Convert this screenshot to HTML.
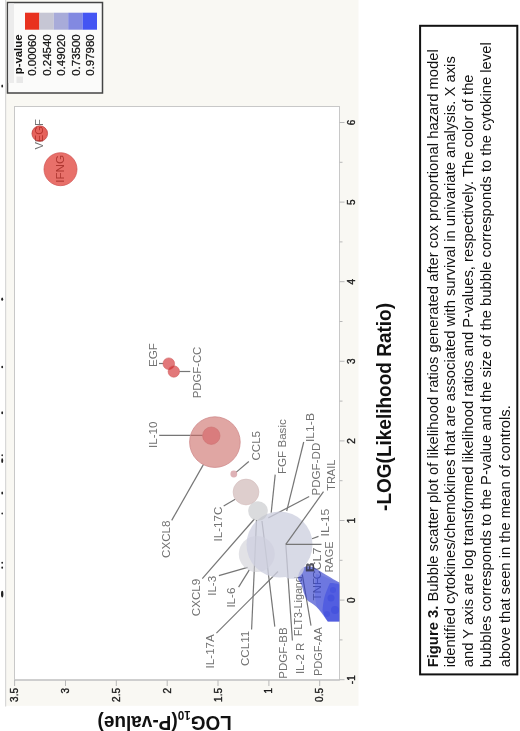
<!DOCTYPE html><html><head><meta charset="utf-8"><style>html,body{margin:0;padding:0;background:#fff;width:520px;height:731px;overflow:hidden}svg{display:block;will-change:transform}text{font-family:"Liberation Sans",sans-serif}</style></head><body>
<svg width="520" height="731" viewBox="0 0 520 731">
<rect x="0" y="0" width="520" height="731" fill="#ffffff"/>
<rect x="5" y="0" width="353.5" height="705.8" fill="#f9f8f3"/>
<line x1="5.6" y1="0" x2="5.6" y2="706.5" stroke="#d8d8d8" stroke-width="1.2"/>
<rect x="14.5" y="106.5" width="325.0" height="573.5" fill="#ffffff" stroke="#c8c8c8" stroke-width="1"/>
<line x1="14.5" y1="680" x2="339.5" y2="680" stroke="#c8c8c8" stroke-width="1.4"/>
<line x1="339.5" y1="679.7" x2="344.5" y2="679.7" stroke="#b8b8b8" stroke-width="1"/>
<text transform="translate(354.5,679.6999999999999) rotate(-90)" font-size="10" fill="#1a1a1a" font-weight="normal" text-anchor="middle" stroke="#1a1a1a" stroke-width="0.35">-1</text>
<line x1="339.5" y1="639.9" x2="342.5" y2="639.9" stroke="#b8b8b8" stroke-width="1"/>
<line x1="339.5" y1="600.1" x2="344.5" y2="600.1" stroke="#b8b8b8" stroke-width="1"/>
<text transform="translate(354.5,600.0999999999999) rotate(-90)" font-size="10" fill="#1a1a1a" font-weight="normal" text-anchor="middle" stroke="#1a1a1a" stroke-width="0.35">0</text>
<line x1="339.5" y1="560.3" x2="342.5" y2="560.3" stroke="#b8b8b8" stroke-width="1"/>
<line x1="339.5" y1="520.5" x2="344.5" y2="520.5" stroke="#b8b8b8" stroke-width="1"/>
<text transform="translate(354.5,520.5) rotate(-90)" font-size="10" fill="#1a1a1a" font-weight="normal" text-anchor="middle" stroke="#1a1a1a" stroke-width="0.35">1</text>
<line x1="339.5" y1="480.7" x2="342.5" y2="480.7" stroke="#b8b8b8" stroke-width="1"/>
<line x1="339.5" y1="440.9" x2="344.5" y2="440.9" stroke="#b8b8b8" stroke-width="1"/>
<text transform="translate(354.5,440.9) rotate(-90)" font-size="10" fill="#1a1a1a" font-weight="normal" text-anchor="middle" stroke="#1a1a1a" stroke-width="0.35">2</text>
<line x1="339.5" y1="401.1" x2="342.5" y2="401.1" stroke="#b8b8b8" stroke-width="1"/>
<line x1="339.5" y1="361.3" x2="344.5" y2="361.3" stroke="#b8b8b8" stroke-width="1"/>
<text transform="translate(354.5,361.29999999999995) rotate(-90)" font-size="10" fill="#1a1a1a" font-weight="normal" text-anchor="middle" stroke="#1a1a1a" stroke-width="0.35">3</text>
<line x1="339.5" y1="321.5" x2="342.5" y2="321.5" stroke="#b8b8b8" stroke-width="1"/>
<line x1="339.5" y1="281.7" x2="344.5" y2="281.7" stroke="#b8b8b8" stroke-width="1"/>
<text transform="translate(354.5,281.7) rotate(-90)" font-size="10" fill="#1a1a1a" font-weight="normal" text-anchor="middle" stroke="#1a1a1a" stroke-width="0.35">4</text>
<line x1="339.5" y1="241.9" x2="342.5" y2="241.9" stroke="#b8b8b8" stroke-width="1"/>
<line x1="339.5" y1="202.1" x2="344.5" y2="202.1" stroke="#b8b8b8" stroke-width="1"/>
<text transform="translate(354.5,202.1) rotate(-90)" font-size="10" fill="#1a1a1a" font-weight="normal" text-anchor="middle" stroke="#1a1a1a" stroke-width="0.35">5</text>
<line x1="339.5" y1="162.3" x2="342.5" y2="162.3" stroke="#b8b8b8" stroke-width="1"/>
<line x1="339.5" y1="122.5" x2="344.5" y2="122.5" stroke="#b8b8b8" stroke-width="1"/>
<text transform="translate(354.5,122.5) rotate(-90)" font-size="10" fill="#1a1a1a" font-weight="normal" text-anchor="middle" stroke="#1a1a1a" stroke-width="0.35">6</text>
<line x1="319.7" y1="680" x2="319.7" y2="686" stroke="#b8b8b8" stroke-width="1"/>
<text transform="translate(323.30000000000007,688) rotate(-90)" font-size="10" fill="#1a1a1a" font-weight="normal" text-anchor="end" stroke="#1a1a1a" stroke-width="0.35">0.5</text>
<line x1="268.9" y1="680" x2="268.9" y2="686" stroke="#b8b8b8" stroke-width="1"/>
<text transform="translate(272.45000000000005,688) rotate(-90)" font-size="10" fill="#1a1a1a" font-weight="normal" text-anchor="end" stroke="#1a1a1a" stroke-width="0.35">1</text>
<line x1="218.0" y1="680" x2="218.0" y2="686" stroke="#b8b8b8" stroke-width="1"/>
<text transform="translate(221.6,688) rotate(-90)" font-size="10" fill="#1a1a1a" font-weight="normal" text-anchor="end" stroke="#1a1a1a" stroke-width="0.35">1.5</text>
<line x1="167.2" y1="680" x2="167.2" y2="686" stroke="#b8b8b8" stroke-width="1"/>
<text transform="translate(170.75,688) rotate(-90)" font-size="10" fill="#1a1a1a" font-weight="normal" text-anchor="end" stroke="#1a1a1a" stroke-width="0.35">2</text>
<line x1="116.3" y1="680" x2="116.3" y2="686" stroke="#b8b8b8" stroke-width="1"/>
<text transform="translate(119.89999999999999,688) rotate(-90)" font-size="10" fill="#1a1a1a" font-weight="normal" text-anchor="end" stroke="#1a1a1a" stroke-width="0.35">2.5</text>
<line x1="65.5" y1="680" x2="65.5" y2="686" stroke="#b8b8b8" stroke-width="1"/>
<text transform="translate(69.05,688) rotate(-90)" font-size="10" fill="#1a1a1a" font-weight="normal" text-anchor="end" stroke="#1a1a1a" stroke-width="0.35">3</text>
<line x1="14.6" y1="680" x2="14.6" y2="686" stroke="#b8b8b8" stroke-width="1"/>
<text transform="translate(18.2,688) rotate(-90)" font-size="10" fill="#1a1a1a" font-weight="normal" text-anchor="end" stroke="#1a1a1a" stroke-width="0.35">3.5</text>
<text transform="translate(391,510.9) rotate(-90)" font-size="19.5" fill="#111" font-weight="bold" text-anchor="start" textLength="207.9" lengthAdjust="spacingAndGlyphs">-LOG(Likelihood Ratio)</text>
<text transform="translate(231.8,715.6) rotate(180)" font-size="19.5" font-weight="bold" fill="#111" textLength="134.3" lengthAdjust="spacingAndGlyphs">LOG<tspan font-size="12" dy="5">10</tspan><tspan dy="-5">(P-value)</tspan></text>
<text transform="translate(43.3,149.6) rotate(-90)" font-size="11.6" fill="#727272" font-weight="normal" text-anchor="start" textLength="30.4" lengthAdjust="spacingAndGlyphs">VEGF</text>
<text transform="translate(63.7,182.7) rotate(-90)" font-size="11.6" fill="#727272" font-weight="normal" text-anchor="start" >IFNG</text>
<text transform="translate(156.5,367) rotate(-90)" font-size="11.6" fill="#727272" font-weight="normal" text-anchor="start" >EGF</text>
<text transform="translate(200.8,398.3) rotate(-90)" font-size="11.6" fill="#727272" font-weight="normal" text-anchor="start" textLength="51.6" lengthAdjust="spacingAndGlyphs">PDGF-CC</text>
<text transform="translate(157.3,448) rotate(-90)" font-size="11.6" fill="#727272" font-weight="normal" text-anchor="start" >IL-10</text>
<text transform="translate(169.8,557.9) rotate(-90)" font-size="11.6" fill="#727272" font-weight="normal" text-anchor="start" >CXCL8</text>
<text transform="translate(260.4,460.6) rotate(-90)" font-size="11.6" fill="#727272" font-weight="normal" text-anchor="start" >CCL5</text>
<text transform="translate(221.7,541.5) rotate(-90)" font-size="11.6" fill="#727272" font-weight="normal" text-anchor="start" >IL-17C</text>
<text transform="translate(286.3,474) rotate(-90)" font-size="11.6" fill="#727272" font-weight="normal" text-anchor="start" >FGF Basic</text>
<text transform="translate(314.2,442) rotate(-90)" font-size="11.6" fill="#727272" font-weight="normal" text-anchor="start" textLength="29" lengthAdjust="spacingAndGlyphs">IL1-B</text>
<text transform="translate(320.2,495.5) rotate(-90)" font-size="11.6" fill="#727272" font-weight="normal" text-anchor="start" >PDGF-DD</text>
<text transform="translate(335,490.8) rotate(-90)" font-size="11.6" fill="#727272" font-weight="normal" text-anchor="start" textLength="31.2" lengthAdjust="spacingAndGlyphs">TRAIL</text>
<text transform="translate(329.4,536.4) rotate(-90)" font-size="11.6" fill="#727272" font-weight="normal" text-anchor="start" textLength="27.8" lengthAdjust="spacingAndGlyphs">IL-15</text>
<text transform="translate(332.8,572.6) rotate(-90)" font-size="11.6" fill="#727272" font-weight="normal" text-anchor="start" textLength="31.2" lengthAdjust="spacingAndGlyphs">RAGE</text>
<text transform="translate(320.9,579.5) rotate(-90)" font-size="11.6" fill="#727272" font-weight="normal" text-anchor="start" textLength="32" lengthAdjust="spacingAndGlyphs">CCL7</text>
<text transform="translate(320.9,600.5) rotate(-90)" font-size="11.6" fill="#727272" font-weight="normal" text-anchor="start" >TNF</text>
<text transform="translate(302,636.2) rotate(-90)" font-size="11.6" fill="#727272" font-weight="normal" text-anchor="start" textLength="60" lengthAdjust="spacingAndGlyphs">FLT3-Ligand</text>
<text transform="translate(200.4,616.2) rotate(-90)" font-size="11.6" fill="#727272" font-weight="normal" text-anchor="start" >CXCL9</text>
<text transform="translate(216.4,595.8) rotate(-90)" font-size="11.6" fill="#727272" font-weight="normal" text-anchor="start" >IL-3</text>
<text transform="translate(235.3,607.6) rotate(-90)" font-size="11.6" fill="#727272" font-weight="normal" text-anchor="start" >IL-6</text>
<text transform="translate(214,668.4) rotate(-90)" font-size="11.6" fill="#727272" font-weight="normal" text-anchor="start" >IL-17A</text>
<text transform="translate(249.3,666) rotate(-90)" font-size="11.6" fill="#727272" font-weight="normal" text-anchor="start" >CCL11</text>
<text transform="translate(286.8,678.8) rotate(-90)" font-size="11.6" fill="#727272" font-weight="normal" text-anchor="start" >PDGF-BB</text>
<text transform="translate(303.6,674.1) rotate(-90)" font-size="11.6" fill="#727272" font-weight="normal" text-anchor="start" >IL-2 R</text>
<text transform="translate(321.8,676.1) rotate(-90)" font-size="11.6" fill="#727272" font-weight="normal" text-anchor="start" textLength="49" lengthAdjust="spacingAndGlyphs">PDGF-AA</text>
<line x1="159" y1="363.5" x2="163.2" y2="363.5" stroke="#767676" stroke-width="1.2"/>
<line x1="179.4" y1="371.5" x2="190.3" y2="371.5" stroke="#767676" stroke-width="1.2"/>
<line x1="159.2" y1="435.4" x2="202.6" y2="435.4" stroke="#767676" stroke-width="1.2"/>
<line x1="203.5" y1="464.4" x2="171.7" y2="520.4" stroke="#767676" stroke-width="1.2"/>
<line x1="248.8" y1="461.5" x2="236.3" y2="472.1" stroke="#767676" stroke-width="1.2"/>
<line x1="223.7" y1="506" x2="235.2" y2="499.2" stroke="#767676" stroke-width="1.2"/>
<line x1="275.2" y1="474.6" x2="271.2" y2="512.7" stroke="#767676" stroke-width="1.2"/>
<line x1="303.7" y1="442" x2="286.7" y2="511" stroke="#767676" stroke-width="1.2"/>
<line x1="309.2" y1="496.5" x2="268.3" y2="517.9" stroke="#767676" stroke-width="1.2"/>
<line x1="318.5" y1="536.4" x2="312" y2="538.8" stroke="#767676" stroke-width="1.2"/>
<line x1="202.3" y1="578.7" x2="254.4" y2="519" stroke="#767676" stroke-width="1.2"/>
<line x1="218.9" y1="575.6" x2="247.6" y2="567.4" stroke="#767676" stroke-width="1.2"/>
<line x1="238.6" y1="587.1" x2="249.3" y2="569.9" stroke="#767676" stroke-width="1.2"/>
<line x1="216.4" y1="633.1" x2="278" y2="571.5" stroke="#767676" stroke-width="1.2"/>
<line x1="251.6" y1="629.5" x2="256.5" y2="520" stroke="#767676" stroke-width="1.2"/>
<line x1="274.8" y1="626.6" x2="262" y2="521" stroke="#767676" stroke-width="1.2"/>
<line x1="292.4" y1="640.5" x2="285.8" y2="544.4" stroke="#767676" stroke-width="1.2"/>
<line x1="311" y1="625.7" x2="302.3" y2="574.5" stroke="#767676" stroke-width="1.2"/>
<circle cx="214.9" cy="442.1" r="25.3" fill="#cb6b66" fill-opacity="0.6" stroke="#cf8a8c" stroke-width="0.8"/>
<circle cx="211.3" cy="435.7" r="8.7" fill="#d46164" fill-opacity="0.6" stroke="#cc7070" stroke-width="0.6"/>
<circle cx="233.8" cy="474" r="3.4" fill="#c87f85" fill-opacity="0.6" stroke="none" stroke-width="0.8"/>
<circle cx="246" cy="492" r="12.9" fill="#c8adac" fill-opacity="0.6" stroke="#d4bcbc" stroke-width="0.6"/>
<circle cx="256.8" cy="554" r="18" fill="#cfcfd5" fill-opacity="0.6" stroke="none" stroke-width="0.8"/>
<path d="M298,579 C298,574 300,569 304,567 C308,565.5 313,566.5 317,569.3 C320,571.3 324,573.5 328,576 C331.5,578 335,580.2 339.3,582.5 L339.3,621.5 L328,621.5 C326,619 323,614 319,609.5 C316,606 312,603 308,601 C305.5,598 303.5,593 302.5,588 C301.5,584 299.5,581 298,579 Z" fill="#2b39ca" fill-opacity="0.62"/>
<path d="M316,574 C322,575 330,579 339.3,583 L339.3,621.5 L328,621.5 C324,617 320,611 317,607 C315,600 314,590 316,574 Z" fill="#3f50e6" fill-opacity="0.25"/>
<path d="M330,583 C334,583 337,583.5 339.3,584.5 L339.3,621.5 L327.5,621.5 C325,618 323,614 322.5,610 C323,605 323.5,601 324.5,597 C326,592 328,587 330,583 Z" fill="#3040e0" fill-opacity="0.45"/>
<circle cx="331" cy="598" r="3.5" fill="#2a3ad8" fill-opacity="0.3" stroke="none" stroke-width="0.8"/>
<circle cx="335" cy="610" r="4" fill="#2a3ad8" fill-opacity="0.3" stroke="none" stroke-width="0.8"/>
<circle cx="327" cy="614" r="3" fill="#2a3ad8" fill-opacity="0.25" stroke="none" stroke-width="0.8"/>
<circle cx="333" cy="590" r="3" fill="#2a3ad8" fill-opacity="0.25" stroke="none" stroke-width="0.8"/>
<text transform="translate(313.6,572) rotate(-90)" font-size="11.3" fill="#2e2e3c" font-weight="bold" text-anchor="start" stroke="#2e2e3c" stroke-width="0.4" opacity="0.8" textLength="9.4" lengthAdjust="spacingAndGlyphs">B</text>
<g opacity="0.78"><circle cx="279.5" cy="544.5" r="33" fill="#ced0e0" fill-opacity="1.0" stroke="none" stroke-width="0.8"/><circle cx="292" cy="566.5" r="12.3" fill="#ced0e0" fill-opacity="1.0" stroke="none" stroke-width="0.8"/></g>
<circle cx="258" cy="511" r="9.8" fill="#c1c3c6" fill-opacity="0.6" stroke="none" stroke-width="0.8"/>
<circle cx="39.75" cy="133.6" r="7.8" fill="#d91107" fill-opacity="0.66" stroke="#b83838" stroke-width="0.7"/>
<circle cx="60.5" cy="169.2" r="16.5" fill="#d91107" fill-opacity="0.6" stroke="#d05050" stroke-width="0.7"/>
<circle cx="168.8" cy="363.7" r="5.8" fill="#cf1e21" fill-opacity="0.6" stroke="#d06060" stroke-width="0.6"/>
<circle cx="173.8" cy="371.5" r="5.7" fill="#cf1e21" fill-opacity="0.6" stroke="#d06060" stroke-width="0.6"/>
<line x1="323.5" y1="491.7" x2="285.8" y2="544.4" stroke="#767676" stroke-width="1.2"/>
<line x1="285.8" y1="544.4" x2="321.5" y2="544.4" stroke="#767676" stroke-width="1.2"/>
<rect x="7.5" y="2.5" width="95" height="90.5" fill="#fbfbfa" stroke="#444" stroke-width="1.5"/>
<rect x="8.3" y="3.5" width="5.7" height="79.5" fill="#ececec"/>
<rect x="16.5" y="76.5" width="6.5" height="6.5" fill="#e8e8e8"/>
<rect x="25.0" y="12.7" width="14.4" height="17" fill="#e8321f"/>
<text transform="translate(36.400000000000006,75.8) rotate(-90)" font-size="11.5" fill="#111" font-weight="normal" text-anchor="start" stroke="#111" stroke-width="0.25">0.00060</text>
<rect x="39.4" y="12.7" width="14.4" height="17" fill="#c6c6d4"/>
<text transform="translate(50.800000000000004,75.8) rotate(-90)" font-size="11.5" fill="#111" font-weight="normal" text-anchor="start" stroke="#111" stroke-width="0.25">0.24540</text>
<rect x="53.8" y="12.7" width="14.4" height="17" fill="#a8abd9"/>
<text transform="translate(65.2,75.8) rotate(-90)" font-size="11.5" fill="#111" font-weight="normal" text-anchor="start" stroke="#111" stroke-width="0.25">0.49020</text>
<rect x="68.2" y="12.7" width="14.4" height="17" fill="#8289e1"/>
<text transform="translate(79.60000000000001,75.8) rotate(-90)" font-size="11.5" fill="#111" font-weight="normal" text-anchor="start" stroke="#111" stroke-width="0.25">0.73500</text>
<rect x="82.6" y="12.7" width="14.4" height="17" fill="#4455f3"/>
<text transform="translate(94.0,75.8) rotate(-90)" font-size="11.5" fill="#111" font-weight="normal" text-anchor="start" stroke="#111" stroke-width="0.25">0.97980</text>
<text transform="translate(21.5,74.3) rotate(-90)" font-size="11.4" fill="#111" font-weight="bold" text-anchor="start" >p-value</text>
<ellipse cx="2.2" cy="86" rx="0.9" ry="1.6" fill="#222"/>
<ellipse cx="2.2" cy="299.2" rx="1.0" ry="1.6" fill="#222"/>
<ellipse cx="2.2" cy="367" rx="0.9" ry="1.2" fill="#222"/>
<ellipse cx="2.2" cy="412.8" rx="0.9" ry="1.5" fill="#222"/>
<ellipse cx="2.2" cy="455.2" rx="0.8" ry="1.0" fill="#222"/>
<ellipse cx="2.2" cy="460.7" rx="1.0" ry="2.4" fill="#222"/>
<ellipse cx="2.2" cy="493" rx="0.9" ry="1.5" fill="#222"/>
<ellipse cx="2.2" cy="513.5" rx="0.8" ry="1.0" fill="#222"/>
<ellipse cx="2.2" cy="562.8" rx="0.9" ry="1.0" fill="#222"/>
<ellipse cx="2.2" cy="567.7" rx="0.9" ry="1.1" fill="#222"/>
<ellipse cx="2.2" cy="594.1" rx="1.2" ry="3.4" fill="#222"/>
<rect x="420.1" y="25.8" width="97.2" height="648.6" fill="#ffffff" stroke="#111" stroke-width="2"/>
<text transform="translate(438.0,667.3) rotate(-90)" font-size="14" fill="#111" font-weight="normal" text-anchor="start" textLength="618.1" lengthAdjust="spacingAndGlyphs"><tspan font-weight="bold">Figure 3.</tspan> Bubble scatter plot of likelihood ratios generated after cox proportional hazard model</text>
<text transform="translate(454.6,667.3) rotate(-90)" font-size="14" fill="#111" font-weight="normal" text-anchor="start" textLength="611.1" lengthAdjust="spacingAndGlyphs">identified cytokines/chemokines that are associated with survival in univariate analysis. X axis</text>
<text transform="translate(472.8,667.3) rotate(-90)" font-size="14" fill="#111" font-weight="normal" text-anchor="start" textLength="592.9" lengthAdjust="spacingAndGlyphs">and Y axis are log transformed likelihood ratios and P-values, respectively. The color of the</text>
<text transform="translate(491.4,667.3) rotate(-90)" font-size="14" fill="#111" font-weight="normal" text-anchor="start" textLength="625.0" lengthAdjust="spacingAndGlyphs">bubbles corresponds to the P-value and the size of the bubble corresponds to the cytokine level</text>
<text transform="translate(509.5,667.3) rotate(-90)" font-size="14" fill="#111" font-weight="normal" text-anchor="start" textLength="262.1" lengthAdjust="spacingAndGlyphs">above that seen in the mean of controls.</text>
</svg></body></html>
